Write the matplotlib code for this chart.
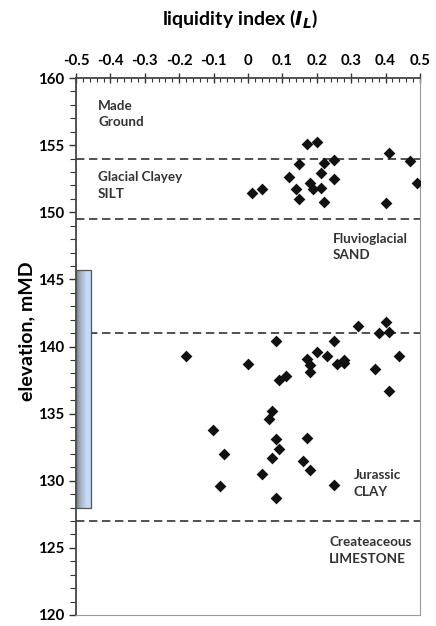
import matplotlib
matplotlib.use('Agg')
import matplotlib.pyplot as plt
from matplotlib.ticker import MultipleLocator, FuncFormatter
import numpy as np

plt.rcParams['font.family'] = ['Lato', 'DejaVu Sans']
plt.rcParams['font.weight'] = 'bold'

# liquidity index vs elevation (mMD)
li_values = [
    0.171, 0.200, 0.410, 0.471, 0.490, 0.401, 0.251, 0.221, 0.149, 0.211,
    0.118, 0.251, 0.180, 0.140, 0.190, 0.211, 0.149, 0.221, 0.040, 0.011,
    -0.180, 0.001, 0.080, 0.090, 0.110, 0.171, 0.180, 0.180, 0.200, 0.230,
    0.251, 0.260, 0.280, 0.280, 0.321, 0.401, 0.381, 0.411, 0.440, 0.370,
    0.411, 0.071, 0.061, -0.101, 0.080, 0.171, -0.070, 0.090, 0.070, 0.159,
    0.180, 0.041, -0.080, 0.250, 0.080,
]
elevations = [
    155.06, 155.2, 154.4, 153.8, 152.2, 150.7, 153.9, 153.7, 153.6, 152.9,
    152.6, 152.5, 152.2, 151.7, 151.7, 151.8, 151.0, 150.8, 151.7, 151.4,
    139.3, 138.7, 140.4, 137.5, 137.8, 139.1, 138.6, 138.1, 139.6, 139.3,
    140.4, 138.7, 139.0, 138.8, 141.5, 141.8, 141.0, 141.1, 139.3, 138.3,
    136.7, 135.2, 134.6, 133.8, 133.1, 133.2, 132.0, 132.4, 131.7, 131.5,
    130.8, 130.5, 129.6, 129.7, 128.7,
]

# stratum boundaries and labels
boundaries = [154.0, 149.5, 141.0, 127.0]
strata_names = ['Made\nGround', 'Glacial Clayey\nSILT', 'Fluvioglacial\nSAND',
                'Jurassic\nCLAY', 'Createaceous\nLIMESTONE']
strata_label_x = [-0.436, -0.436, 0.246, 0.308, 0.236]
strata_label_y = [157.3, 152.0, 147.4, 129.8, 124.8]

# screened interval bar on the left
bar_x = -0.5
bar_width = 0.045
bar_bottom = 128.0
bar_top = 145.7

fig = plt.figure(figsize=(4.36, 6.26), dpi=100)
ax = fig.add_axes([76 / 436, 1 - 615 / 626, 344 / 436, 537 / 626])

bars = ax.bar(bar_x, bar_top - bar_bottom, width=bar_width, bottom=bar_bottom,
              align='edge', facecolor='none', edgecolor='#555555', linewidth=0.9,
              zorder=3)
grad = np.linspace(0, 1, 64).reshape(1, -1)
cmap = matplotlib.colors.LinearSegmentedColormap.from_list(
    'bar', ['#7a8290', '#a9b8d0', '#c9daf2', '#c6d8f2'])
im = ax.imshow(grad, cmap=cmap, aspect='auto', zorder=2,
               extent=[bar_x, bar_x + bar_width, bar_bottom, bar_top])
im.set_clip_path(bars[0])

for b in boundaries:
    ax.axhline(b, color='#222222', linestyle=(0, (5.5, 3)), linewidth=1.1, zorder=1)

ax.scatter(li_values, elevations, marker='D', s=36, color='#111111', zorder=4,
           linewidths=0)

for name, tx, ty in zip(strata_names, strata_label_x, strata_label_y):
    ax.text(tx, ty, name, ha='left', va='center', fontsize=9.7,
            fontweight='bold', color='#333333', linespacing=1.45)

ax.set_xlim(-0.5, 0.5)
ax.set_ylim(120, 160)
ax.xaxis.set_ticks_position('top')
ax.xaxis.set_major_locator(MultipleLocator(0.1))
ax.xaxis.set_minor_locator(MultipleLocator(0.02))
ax.xaxis.set_major_formatter(FuncFormatter(lambda v, p: '0' if abs(v) < 1e-9 else f'{v:.1f}'))
ax.yaxis.set_major_locator(MultipleLocator(5))
ax.yaxis.set_minor_locator(MultipleLocator(1))

ax.tick_params(axis='x', which='major', direction='inout', length=7, width=1,
               labelsize=10.8, pad=4, color='#333333')
ax.tick_params(axis='x', which='minor', direction='in', length=3, width=0.8,
               color='#333333')
ax.tick_params(axis='y', which='major', direction='out', length=5, width=1,
               labelsize=10.8, color='#333333')
ax.tick_params(axis='y', which='minor', direction='out', length=4, width=0.8,
               color='#333333')
plt.setp(ax.get_xticklabels(), fontweight='bold')
plt.setp(ax.get_yticklabels(), fontweight='bold')

ax.spines['left'].set_color('#444444')
ax.spines['left'].set_linewidth(1.3)
ax.spines['top'].set_color('#444444')
ax.spines['top'].set_linewidth(1.3)
ax.spines['right'].set_color('#999999')
ax.spines['bottom'].set_color('#999999')

fig.text(240 / 436, 1 - 19 / 626, r'liquidity index ($\mathbfit{I}_{\mathbfit{L}}$)',
         ha='center', va='center', fontsize=14, fontweight='bold')
fig.text(27 / 436, 1 - 331 / 626, 'elevation, mMD', rotation=90,
         ha='center', va='center', fontsize=14, fontweight='bold')

fig.savefig('out.png', dpi=100)
